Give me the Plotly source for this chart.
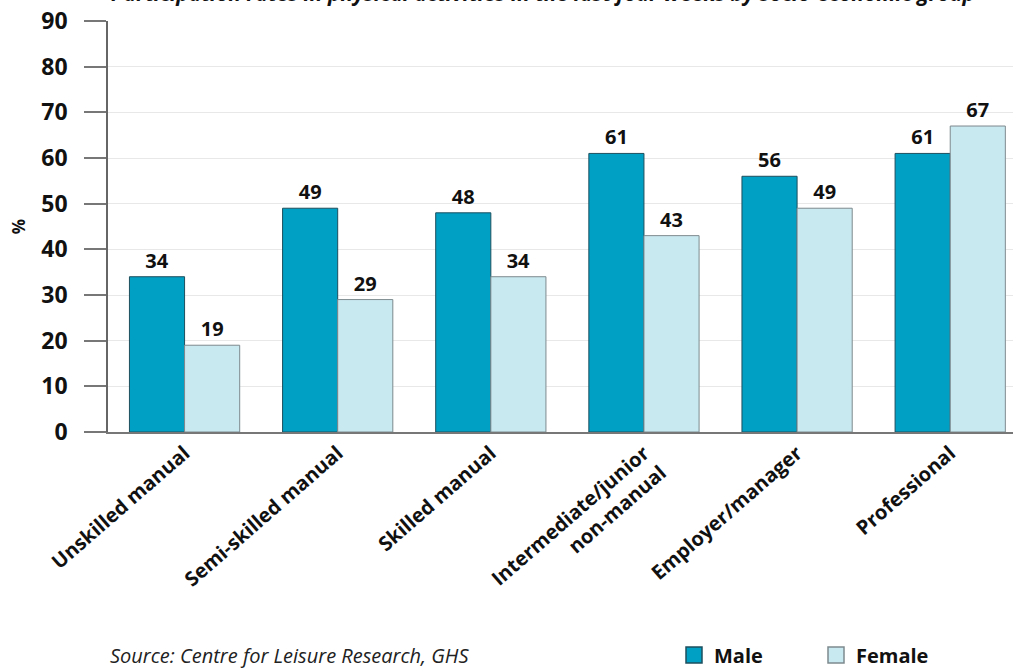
import plotly.graph_objects as go

categories = ["Unskilled manual", "Semi-skilled manual", "Skilled manual",
              "Intermediate/junior<br>non-manual", "Employer/manager", "Professional"]
male = [34, 49, 48, 61, 56, 61]
female = [19, 29, 34, 43, 49, 67]
y_ticks = [0, 10, 20, 30, 40, 50, 60, 70, 80, 90]

MALE_C = "#009fc4"
FEMALE_C = "#c9e9f1"
MALE_EDGE = "#1d4f5e"
FEMALE_EDGE = "#7d8a8e"
FONT = "Open Sans"

fig = go.Figure()
fig.add_trace(go.Bar(
    x=categories, y=male, name="Male", showlegend=False,
    marker=dict(color=MALE_C, line=dict(color=MALE_EDGE, width=1)),
    text=[str(v) for v in male], textposition="outside",
    textfont=dict(family=FONT, size=20, color="#111", weight="bold"),
    cliponaxis=False,
))
fig.add_trace(go.Bar(
    x=categories, y=female, name="Female", showlegend=False,
    marker=dict(color=FEMALE_C, line=dict(color=FEMALE_EDGE, width=1)),
    text=[str(v) for v in female], textposition="outside",
    textfont=dict(family=FONT, size=20, color="#111", weight="bold"),
    cliponaxis=False,
))
# legend proxies (larger square symbols than the bar legend glyph)
fig.add_trace(go.Scatter(x=[None], y=[None], mode="markers", name="Male",
                         marker=dict(symbol="square", size=16, color=MALE_C,
                                     line=dict(color=MALE_EDGE, width=1.5))))
fig.add_trace(go.Scatter(x=[None], y=[None], mode="markers", name="Female",
                         marker=dict(symbol="square", size=16, color=FEMALE_C,
                                     line=dict(color=FEMALE_EDGE, width=1.5))))

W, H = 1013, 668
L, R, T = 108, 0, 21
plot_bottom = 432
B = H - plot_bottom
pw = W - L - R
ph = H - T - B


def py(page_y):
    """paper y for a page pixel y"""
    return (plot_bottom - page_y) / ph


def px(page_x):
    return (page_x - L) / pw


fig.update_layout(
    width=W, height=H,
    margin=dict(l=L, r=R, t=T, b=B, autoexpand=False),
    plot_bgcolor="white", paper_bgcolor="white",
    barmode="group", bargap=0.28, bargroupgap=0,
    font=dict(family=FONT, color="#111"),
    showlegend=True,
    legend=dict(orientation="h", x=px(674), xanchor="left",
                y=py(655), yanchor="middle",
                font=dict(family=FONT, size=20, color="#111", weight="bold"),
                entrywidth=97, entrywidthmode="pixels",
                bgcolor="rgba(0,0,0,0)"),
    xaxis=dict(
        type="category", range=[-0.5, 5.41], automargin=False,
        tickangle=-41, showgrid=False, ticks="",
        tickfont=dict(family=FONT, size=20, color="#111", weight="bold"),
        showline=True, linecolor="#777", linewidth=1.5,
    ),
    yaxis=dict(
        range=[0, 90], tickvals=y_ticks, showgrid=True, gridcolor="#e8e8e8", gridwidth=1,
        automargin=False, ticklabeloverflow="allow",
        ticks="outside", ticklen=22, tickcolor="#777", tickwidth=1.5,
        ticklabelstandoff=12,
        tickfont=dict(family=FONT, size=23, color="#111", weight="bold"),
        showline=True, linecolor="#666", linewidth=1.5, zeroline=False,
        title=dict(text="%", font=dict(family=FONT, size=17, color="#111", weight="bold"),
                   standoff=11),
    ),
    annotations=[
        dict(text="Participation rates in physical activities in the last four weeks by socio-economic group",
             xref="paper", yref="paper", x=px(543), y=py(9),
             xanchor="center", yanchor="bottom", showarrow=False,
             font=dict(family=FONT, size=21, color="#111", weight="bold", style="italic")),
        dict(text="Source: Centre for Leisure Research, GHS",
             xref="paper", yref="paper", x=px(108), y=py(655),
             xanchor="left", yanchor="middle", showarrow=False,
             font=dict(family=FONT, size=20, color="#222", style="italic")),
    ],
)

fig.write_html("out.html",
               config={"displayModeBar": False},
               post_script="document.body.style.margin='0';document.body.style.overflow='hidden';")
